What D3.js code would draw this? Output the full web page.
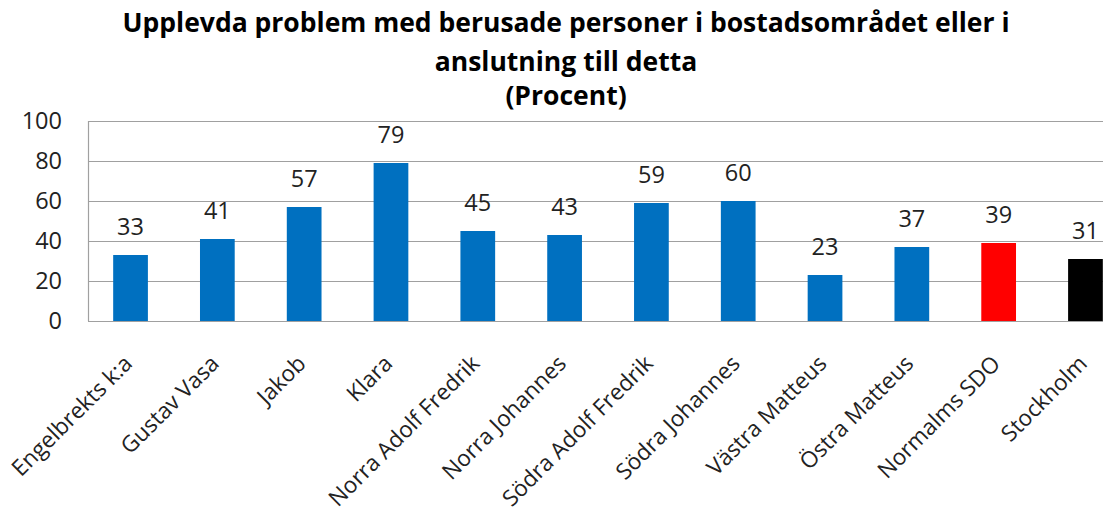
<!DOCTYPE html>
<html>
<head>
<meta charset="utf-8">
<script src="https://cdn.jsdelivr.net/npm/d3@7"></script>
<style>
  body { margin: 0; background: #fff; }
  svg { display: block; font-family: "Open Sans", sans-serif; }
</style>
</head>
<body>
<svg id="chart" width="1103" height="511"></svg>
<script>
const categories = ['Engelbrekts k:a', 'Gustav Vasa', 'Jakob', 'Klara', 'Norra Adolf Fredrik',
    'Norra Johannes', 'Södra Adolf Fredrik', 'Södra Johannes', 'Västra Matteus',
    'Östra Matteus', 'Normalms SDO', 'Stockholm'];
const values = [33, 41, 57, 79, 45, 43, 59, 60, 23, 37, 39, 31];
const barColors = ['#0070C0', '#0070C0', '#0070C0', '#0070C0', '#0070C0', '#0070C0',
    '#0070C0', '#0070C0', '#0070C0', '#0070C0', '#FF0000', '#000000'];
const yTicks = [0, 20, 40, 60, 80, 100];
const titleLines = ['Upplevda problem med berusade personer i bostadsområdet eller i',
    'anslutning till detta', '(Procent)'];

const svg = d3.select('#chart');
const margin = {top: 121, left: 88};
const width = 1040;
const height = 200;

const x = d3.scaleBand().domain(categories).range([0, width]).paddingInner(0.6).paddingOuter(0.29);
const y = d3.scaleLinear().domain([0, 100]).range([height, 0]);

const g = svg.append('g').attr('transform', `translate(${margin.left},${margin.top})`);

// title
const titleY = [32, 71, 105];
svg.append('g').selectAll('text')
    .data(titleLines)
    .enter().append('text')
    .attr('x', 566)
    .attr('y', (d, i) => titleY[i])
    .attr('text-anchor', 'middle')
    .attr('font-size', '26.5px')
    .attr('font-weight', 'bold')
    .attr('fill', '#000')
    .text(d => d);

// gridlines
g.selectAll('.grid')
    .data(yTicks)
    .enter().append('line')
    .attr('class', 'grid')
    .attr('x1', 0)
    .attr('x2', width)
    .attr('y1', d => y(d) + 0.5)
    .attr('y2', d => y(d) + 0.5)
    .attr('stroke', '#a0a0a0')
    .attr('stroke-width', 1.2);

g.append('line')
    .attr('x1', 0.5).attr('x2', 0.5)
    .attr('y1', 0).attr('y2', height)
    .attr('stroke', '#a0a0a0')
    .attr('stroke-width', 1.2);

// y tick labels
g.selectAll('.ytick')
    .data(yTicks)
    .enter().append('text')
    .attr('class', 'ytick')
    .attr('x', -26)
    .attr('y', d => y(d))
    .attr('dy', '0.35em')
    .attr('text-anchor', 'end')
    .attr('font-size', '23.5px')
    .attr('fill', '#222')
    .text(d => d);

// bars
g.selectAll('.bar')
    .data(values)
    .enter().append('rect')
    .attr('class', 'bar')
    .attr('x', (d, i) => x(categories[i]))
    .attr('y', d => y(d))
    .attr('width', x.bandwidth())
    .attr('height', d => height - y(d))
    .attr('fill', (d, i) => barColors[i]);

// value labels
g.selectAll('.val')
    .data(values)
    .enter().append('text')
    .attr('class', 'val')
    .attr('x', (d, i) => x(categories[i]) + x.bandwidth() / 2)
    .attr('y', d => y(d) - 20)
    .attr('text-anchor', 'middle')
    .attr('font-size', '23.5px')
    .attr('fill', '#222')
    .text(d => d);

// category labels
g.selectAll('.xlab')
    .data(categories)
    .enter().append('text')
    .attr('class', 'xlab')
    .attr('transform', d => `translate(${x(d) + x.bandwidth() / 2 + 3},${height + 44}) rotate(-45)`)
    .attr('text-anchor', 'end')
    .attr('font-size', '22.5px')
    .attr('fill', '#222')
    .text(d => d);
</script>
</body>
</html>
